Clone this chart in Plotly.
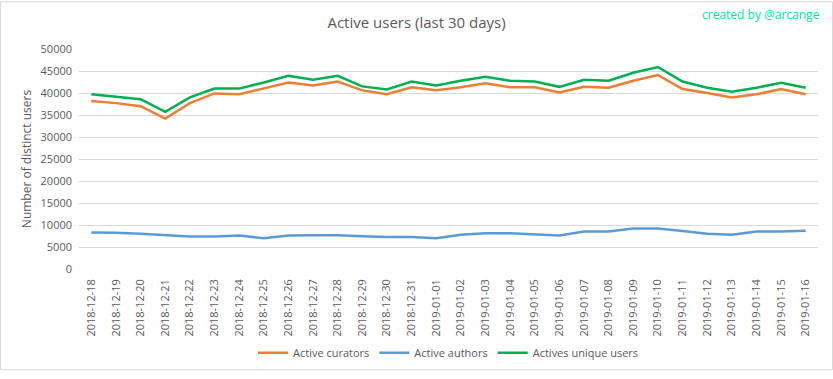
import plotly.graph_objects as go

dates = ["2018-12-18","2018-12-19","2018-12-20","2018-12-21","2018-12-22","2018-12-23","2018-12-24",
         "2018-12-25","2018-12-26","2018-12-27","2018-12-28","2018-12-29","2018-12-30","2018-12-31",
         "2019-01-01","2019-01-02","2019-01-03","2019-01-04","2019-01-05","2019-01-06","2019-01-07",
         "2019-01-08","2019-01-09","2019-01-10","2019-01-11","2019-01-12","2019-01-13","2019-01-14",
         "2019-01-15","2019-01-16"]

curators = [38200, 37700, 37000, 34200, 37700, 39900, 39700, 41000, 42400, 41700, 42600, 40600, 39700, 41300,
            40600, 41300, 42200, 41300, 41300, 40100, 41400, 41200, 42800, 44100, 40900, 40000, 39000, 39700,
            40900, 39700]

authors = [8300, 8250, 8000, 7750, 7400, 7400, 7600, 7000, 7600, 7650, 7650, 7450, 7250, 7250,
           7000, 7800, 8100, 8100, 7850, 7600, 8500, 8500, 9200, 9200, 8650, 8000, 7800, 8500,
           8500, 8700]

unique_users = [39700, 39200, 38600, 35700, 39000, 41000, 41000, 42400, 43900, 43000, 43900, 41500, 40800, 42600,
                41700, 42800, 43700, 42800, 42600, 41400, 43000, 42800, 44600, 45900, 42600, 41200, 40300, 41200,
                42300, 41200]

FONT = "Open Sans"
GRAY = "#595959"

fig = go.Figure()
fig.add_trace(go.Scatter(x=dates, y=curators, mode="lines", name="Active curators",
                         line=dict(color="#ED7D31", width=2.5)))
fig.add_trace(go.Scatter(x=dates, y=authors, mode="lines", name="Active authors",
                         line=dict(color="#5B9BD5", width=2.5)))
fig.add_trace(go.Scatter(x=dates, y=unique_users, mode="lines", name="Actives unique users",
                         line=dict(color="#00B050", width=2.5)))

fig.update_layout(
    width=833, height=379,
    margin=dict(l=79, r=15, t=49, b=104),
    paper_bgcolor="white", plot_bgcolor="white",
    font=dict(family=FONT, color=GRAY, size=11),
    title=dict(text="Active users (last 30 days)", x=0.5, xanchor="center", y=1 - 23 / 379, yanchor="middle",
               font=dict(family=FONT, size=15, color=GRAY)),
    showlegend=True,
    legend=dict(orientation="h", x=0.5, xanchor="center", y=-(361 - 275) / 226, yanchor="middle",
                font=dict(family=FONT, size=11, color=GRAY), bgcolor="rgba(0,0,0,0)"),
    xaxis=dict(type="category", range=[-0.5, len(dates) - 0.5], tickangle=-90, showgrid=False,
               showline=False, zeroline=False, ticks="", tickfont=dict(size=11, color=GRAY),
               ticklabelstandoff=7),
    yaxis=dict(range=[0, 50000], dtick=5000, showgrid=True, gridcolor="#D9D9D9", gridwidth=1,
               zeroline=False, showline=False, ticks="", tickfont=dict(size=11, color=GRAY),
               tickformat="d", ticklabelstandoff=6,
               title=dict(text="Number of distinct users", font=dict(size=12, color=GRAY), standoff=6)),
    annotations=[dict(text="created by @arcange", xref="paper", yref="paper",
                      x=(822 - 79) / 739, y=1 + (49 - 14) / 226, xanchor="right", yanchor="middle",
                      showarrow=False, font=dict(family=FONT, size=12, color="#00E6A0"))],
    shapes=[dict(type="rect", xref="paper", yref="paper",
                 x0=(0.5 - 79) / 739, x1=(832.5 - 79) / 739,
                 y0=-(378.5 - 275) / 226, y1=1 + (49 - 0.5) / 226,
                 line=dict(color="#D9D9D9", width=1), fillcolor="rgba(0,0,0,0)", layer="below")],
)

fig.write_html("out.html", config={"displayModeBar": False},
               post_script=("document.body.style.margin='0';"
                            "document.body.style.overflow='hidden';"
                            "document.documentElement.style.overflow='hidden';"))
